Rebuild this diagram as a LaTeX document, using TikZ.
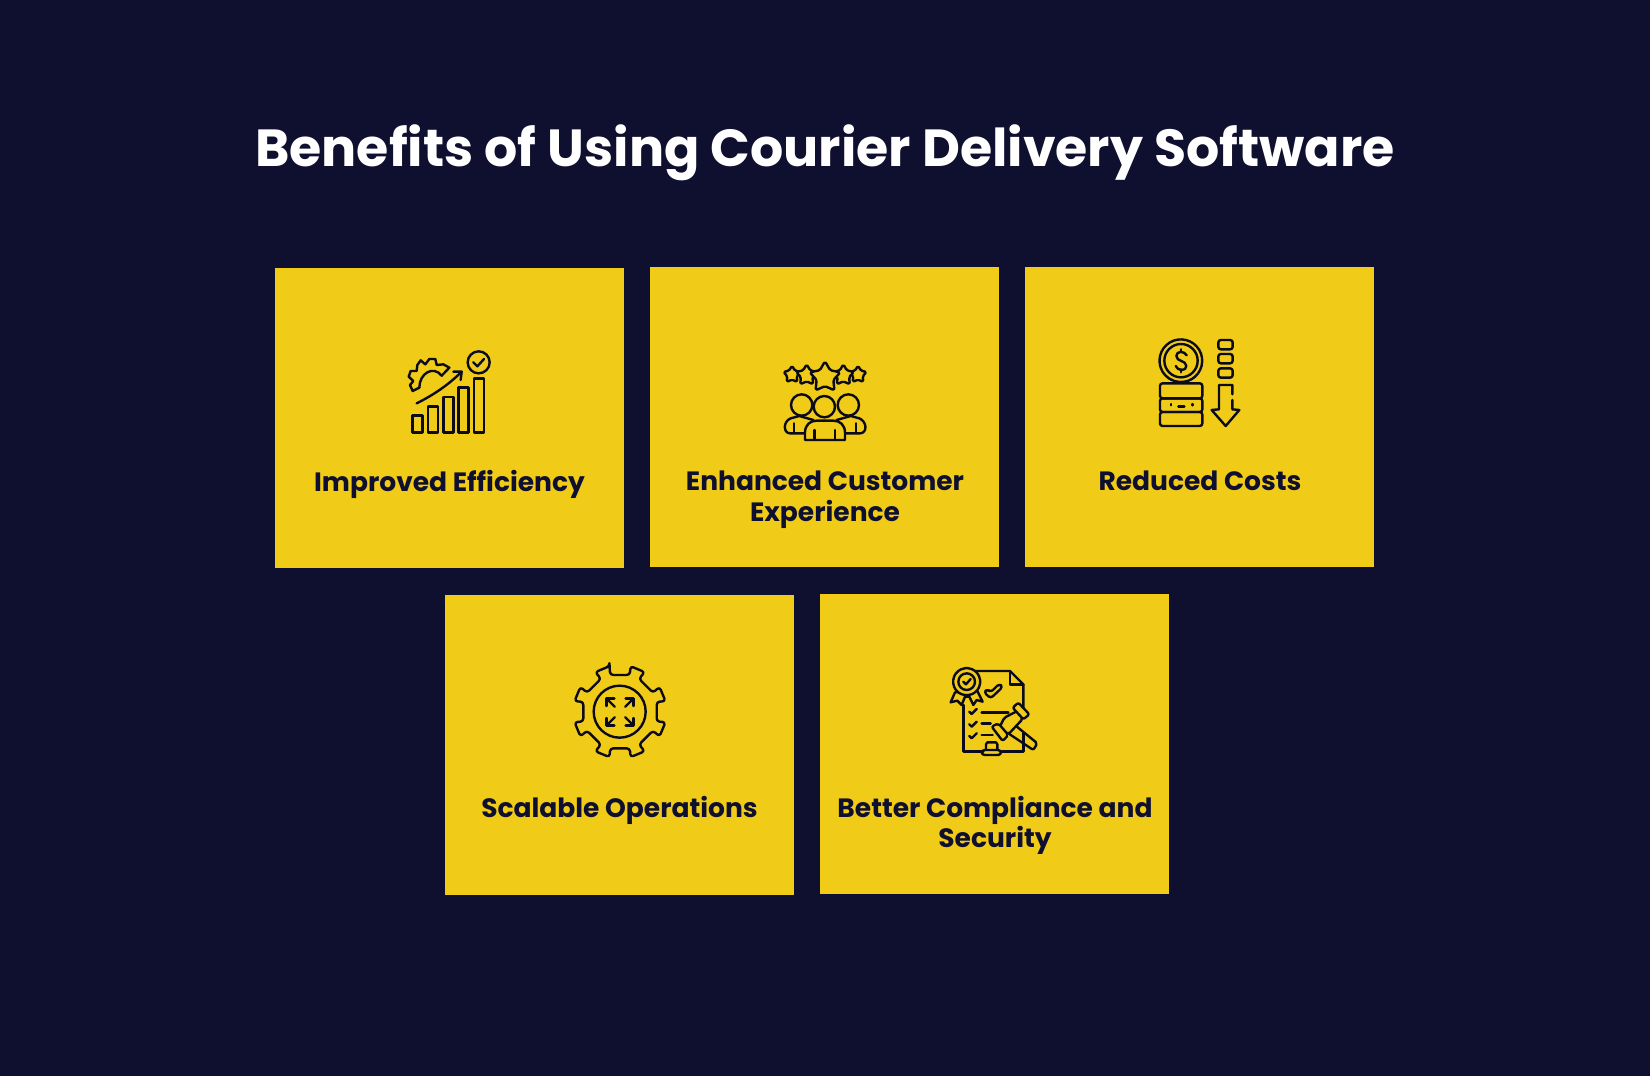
\documentclass[tikz,border=0pt]{standalone}
\usepackage{fontspec}
\setmainfont{Poppins}
\definecolor{navybg}{HTML}{0F0F2F}
\definecolor{cardyellow}{HTML}{F0CB17}
\definecolor{inkdark}{HTML}{0B0B1C}
\tikzset{
    card/.style = {rectangle, fill=cardyellow, minimum width=349pt, minimum height=300pt, inner sep=0pt},
    cardtext/.style = {anchor=north, align=center, inner sep=0pt, text=navybg, font=\fontsize{26.5}{30.5}\selectfont\bfseries},
    headtext/.style = {inner sep=0pt, text=white, font=\fontsize{52.2}{60}\selectfont\bfseries},
    iconline/.style = {draw=inkdark, line width=2.4pt, line join=round, line cap=round},
    iconfill/.style = {iconline, fill=cardyellow},
    zoomed/.style = {shift={(#1)}, scale=0.33333}
}
% rounded five point star, at (#1,#2) with radius #3
\newcommand{\starshape}[3]{
\draw[iconfill,rounded corners=1.6pt,shift={(#1,#2)}]
  (-90:#3) -- (-54:#3*0.55) -- (-18:#3) -- (18:#3*0.55) -- (54:#3) -- (90:#3*0.55)
  -- (126:#3) -- (162:#3*0.55) -- (198:#3) -- (234:#3*0.55) -- cycle;
}
\begin{document}
\begin{tikzpicture}[x=1pt,y=-1pt]
\path[use as bounding box,fill=navybg] (0,0) rectangle (1650,1076);
%
\node[headtext] at (825,153) (title) {Benefits of Using Courier Delivery Software};
%
\node[card] at (449.5,418) (efficiency) {};
\node[card] at (824.8,417) (customer) {};
\node[card] at (1199.8,417) (costs) {};
\node[card] at (619.5,744.5) (scalable) {};
\node[card] at (994.8,743.5) (compliance) {};
%
\node[cardtext] at (449.5,470) (efficiencytext) {Improved Efficiency};
\node[cardtext] at (825,471) (customertext) {Enhanced Customer\\Experience};
\node[cardtext] at (1200,471) (coststext) {Reduced Costs};
\node[cardtext] at (619.5,796) (scalabletext) {Scalable Operations};
\node[cardtext] at (995,796) (compliancetext) {Better Compliance and\\Security};

% bars, gear, arrow
\begin{scope}[zoomed={390,335}]
\foreach \x/\y in {68/242,114/215,160/186,206/158,252/130}
  \draw[iconline] (\x,\y) rectangle (\x+30,292);
\draw[iconline] (266,82) circle (33);
\draw[iconline] (250,82) -- (262,94) -- (282,72);
\draw[iconline] (80,205) .. controls (130,180) and (175,150) .. (215,110);
\draw[iconline] (190,110) -- (215,110) -- (212,135);
\draw[iconline] (88,158) -- (68,168) -- (60,150) -- (70,138) -- (56,125) -- (62,108) -- (80,108) -- (82,90) -- (92,76) -- (106,88) -- (118,72) -- (136,72) -- (140,90) -- (160,88) -- (178,98) -- (155,122);
\draw[iconline] (88,158) .. controls (88,115) and (130,90) .. (155,122);
\end{scope}

% stars and people
\begin{scope}[zoomed={770,350}]
\starshape{66}{74}{27}
\starshape{264}{74}{27}
\starshape{110}{76}{33}
\starshape{220}{76}{33}
\starshape{165}{82}{48}
\draw[iconfill] (105,250) -- (60,250) .. controls (40,250) and (38,215) .. (62,205) -- (88,198) -- (130,210) -- (105,250);
\draw[iconfill] (225,250) -- (270,250) .. controls (292,250) and (292,215) .. (268,205) -- (242,198) -- (200,210) -- (225,250);
\draw[iconline] (72,220) -- (72,250);
\draw[iconline] (258,220) -- (258,250);
\draw[iconfill] (95,165) circle (32);
\draw[iconfill] (235,165) circle (32);
\draw[iconfill] (163,170) circle (32);
\draw[iconfill] (105,270) -- (105,248) .. controls (105,225) and (120,212) .. (140,212) -- (190,212) .. controls (210,212) and (225,225) .. (225,248) -- (225,270) -- cycle;
\draw[iconline] (133,240) -- (133,270);
\draw[iconline] (195,240) -- (195,270);
\end{scope}

% coin, stack, down arrow
\begin{scope}[zoomed={1145,330}]
\draw[iconline] (60,135) arc (138:-318:64);
\draw[iconline] (108,92) circle (50);
\draw[iconline] (125,76) .. controls (118,62) and (94,62) .. (94,78) .. controls (94,96) and (124,90) .. (124,108) .. controls (124,124) and (98,124) .. (92,108);
\draw[iconline] (108,58) -- (108,66);
\draw[iconline] (108,118) -- (108,127);
\foreach \y/\h in {160/205,205/246,246/288}
  \draw[iconline,rounded corners=2.5pt] (45,\y) rectangle (172,\h);
\draw[iconline] (78,222) -- (78,226);
\draw[iconline] (142,222) -- (142,226);
\draw[iconline] (100,229) -- (118,229);
\foreach \y in {30,72,115}
  \draw[iconline,rounded corners=2.5pt] (220,\y) rectangle (263,\y+28);
\draw[iconline] (262,193) -- (262,165) -- (222,165) -- (222,238) -- (200,240) -- (242,288) -- (283,240) -- (262,238) -- (262,210);
\end{scope}

% gear with outward arrows
\begin{scope}[zoomed={560,656}]
\begin{scope}[shift={(180,167)}]
\draw[iconline,rounded corners=3pt] (-103:140) \foreach \a in {-90,-45,0,45,90,135,180,225} {
  -- (\a-13:140) -- (\a-15:114) -- (\a+15:114) -- (\a+13:140) } -- cycle;
\end{scope}
\draw[iconline] (179,167) circle (78);
\draw[iconline] (140,150) -- (140,128) -- (163,128);
\draw[iconline] (140,128) -- (164,152);
\draw[iconline] (197,128) -- (220,128) -- (220,150);
\draw[iconline] (220,128) -- (196,152);
\draw[iconline] (140,186) -- (140,208) -- (163,208);
\draw[iconline] (140,208) -- (164,184);
\draw[iconline] (197,208) -- (220,208) -- (220,186);
\draw[iconline] (220,208) -- (196,184);
\end{scope}

% document, badge, gavel
\begin{scope}[zoomed={940,655}]
\draw[iconline] (110,48) -- (210,48) -- (250,88) -- (250,165);
\draw[iconline] (210,48) -- (210,88) -- (250,88);
\draw[iconline] (250,235) -- (250,290) -- (185,290);
\draw[iconline] (130,290) -- (70,290) -- (70,150);
\draw[iconfill] (45,112) -- (32,142) -- (52,137) -- (65,150) -- (75,125) -- (88,125) -- (100,150) -- (110,135) -- (128,140) -- (112,108) -- cycle;
\begin{scope}[shift={(80,80)}]
\draw[iconfill,rounded corners=2pt] (0:44) \foreach \a in {30,60,90,120,150,180,210,240,270,300,330} { -- (\a-15:38) -- (\a:44) } -- (345:38) -- cycle;
\end{scope}
\draw[iconline] (80,80) circle (25);
\draw[iconline] (70,80) -- (78,88) -- (92,72);
\draw[iconline,rounded corners=3pt] (132,112) -- (142,102) -- (152,112) -- (178,86) -- (188,96) -- (152,130) -- cycle;
\foreach \y in {170,208,243} {
  \draw[iconline] (88,\y) -- (95,\y+7) -- (110,\y-8);
}
\draw[iconline] (125,172) -- (205,172);
\draw[iconline] (125,205) -- (152,205);
\draw[iconline] (125,240) -- (158,240);
\draw[iconline,rounded corners=2pt] (222,208) -- (292,265) -- (280,285) -- (205,235);
\draw[iconfill,rounded corners=2pt] (193,188) -- (238,165) -- (248,192) -- (205,238) -- (178,218) -- cycle;
\draw[iconfill,rounded corners=2pt] (218,158) -- (235,143) -- (268,178) -- (250,193) -- cycle;
\draw[iconfill,rounded corners=2pt] (155,215) -- (175,205) -- (205,240) -- (188,258) -- cycle;
\draw[iconline] (138,285) -- (138,268) -- (142,262) -- (168,262) -- (172,268) -- (172,285);
\draw[iconline,rounded corners=3pt] (125,285) rectangle (183,300);
\end{scope}

\end{tikzpicture}
\end{document}
